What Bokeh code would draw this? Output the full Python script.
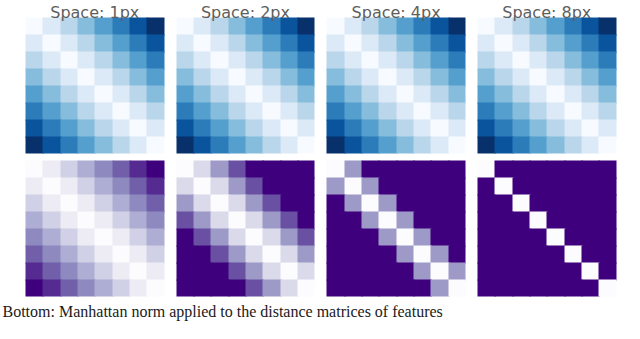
from bokeh.plotting import figure
from bokeh.models import Range1d, ColumnDataSource, LinearColorMapper
from bokeh.palettes import Blues256, Purples256
from bokeh.transform import transform
from bokeh.core.properties import value
from bokeh.embed import file_html
from bokeh.resources import INLINE

# ---------------- data ----------------
titles = ["Space: 1px", "Space: 2px", "Space: 4px", "Space: 8px"]
n_cells = 8
# colour level per Manhattan distance |i-j| (0..7)
top_levels_1px = [0.0, 0.14, 0.29, 0.43, 0.57, 0.71, 0.86, 1.0]
top_levels_2px = [0.0, 0.14, 0.29, 0.43, 0.57, 0.71, 0.86, 1.0]
top_levels_4px = [0.0, 0.14, 0.29, 0.43, 0.57, 0.71, 0.86, 1.0]
top_levels_8px = [0.0, 0.14, 0.29, 0.43, 0.57, 0.71, 0.86, 1.0]
bottom_levels_1px = [0.0, 0.14, 0.29, 0.43, 0.57, 0.71, 0.86, 1.0]
bottom_levels_2px = [0.0, 0.25, 0.5, 0.75, 1.0, 1.0, 1.0, 1.0]
bottom_levels_4px = [0.0, 0.5, 1.0, 1.0, 1.0, 1.0, 1.0, 1.0]
bottom_levels_8px = [0.0, 1.0, 1.0, 1.0, 1.0, 1.0, 1.0, 1.0]
caption = "Bottom: Manhattan norm applied to the distance matrices of features"

top_rows = [top_levels_1px, top_levels_2px, top_levels_4px, top_levels_8px]
bottom_rows = [bottom_levels_1px, bottom_levels_2px, bottom_levels_4px, bottom_levels_8px]

# ---------------- layout ----------------
W, H = 624, 323
panel_left0 = 25.0
panel_step = 150.67
panel_w = 138.5
panel_h = 136.0
row_tops = [17.0, 160.0]
overlap = 1.2

p = figure(width=W, height=H, output_backend="svg", toolbar_location=None,
           x_range=Range1d(0, W), y_range=Range1d(H, 0),
           min_border=0, outline_line_color=None)
p.axis.visible = False
p.grid.visible = False
p.background_fill_color = "white"
p.border_fill_color = "white"

blues = LinearColorMapper(palette=list(reversed(Blues256)), low=0, high=1)
purples = LinearColorMapper(palette=list(reversed(Purples256)), low=0, high=1)

def add_panel(levels, k, row, mapper):
    L, R, T, B, vs = [], [], [], [], []
    cw = panel_w / n_cells
    ch = panel_h / n_cells
    left = panel_left0 + panel_step * k
    top = row_tops[row]
    for i in range(n_cells):
        for j in range(n_cells):
            L.append(round(left + j * cw))
            R.append(round(left + (j + 1) * cw) + (overlap if j < n_cells - 1 else 0))
            T.append(round(top + i * ch))
            B.append(round(top + (i + 1) * ch) + (overlap if i < n_cells - 1 else 0))
            vs.append(levels[abs(i - j)])
    src = ColumnDataSource(dict(l=L, r=R, t=T, b=B, v=vs))
    p.quad(left="l", right="r", top="t", bottom="b", source=src,
           fill_color=transform("v", mapper), line_color=None)

for k in range(4):
    add_panel(top_rows[k], k, 0, blues)
    add_panel(bottom_rows[k], k, 1, purples)

tsrc = ColumnDataSource(dict(
    x=[panel_left0 + panel_step * k + panel_w / 2 for k in range(4)],
    y=[12.0] * 4, t=titles))
p.text("x", "y", text="t", source=tsrc, text_align="center",
       text_baseline="alphabetic", text_font=value("DejaVu Sans"),
       text_font_size="16px", text_color="#5e5e5e")

p.text(x=[2], y=[311], text=[caption], text_align="left", text_baseline="alphabetic",
       text_font=value("Liberation Serif"), text_font_size="16px",
       text_color="#1a1a1a")

open("out.html", "w").write(file_html(p, INLINE))
